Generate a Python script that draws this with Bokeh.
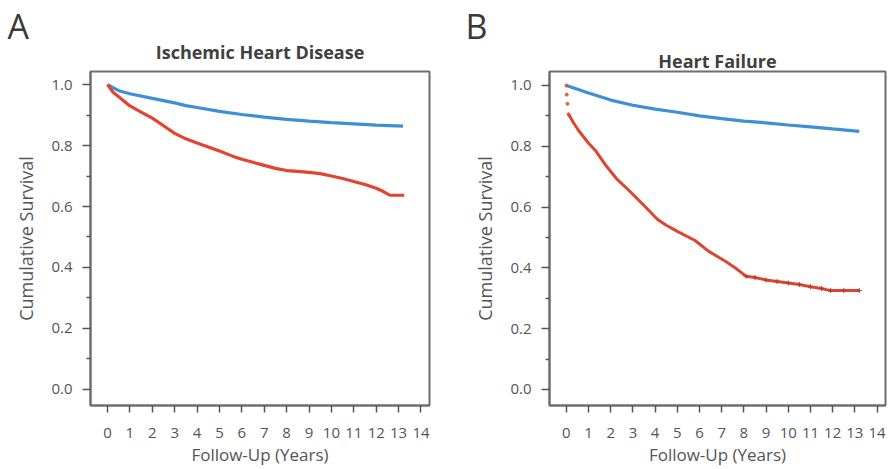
from bokeh.plotting import figure
from bokeh.layouts import row
from bokeh.models import FixedTicker, Range1d, Title
from bokeh.embed import file_html
from bokeh.resources import INLINE

# ---- data ----
ihd_blue_t = [0, 0.5, 1, 2, 3, 3.5, 4, 5, 6, 7, 8, 9, 10, 11, 12, 13.2]
ihd_blue_v = [1.0, 0.98, 0.97, 0.955, 0.94, 0.931, 0.925, 0.912, 0.902, 0.893, 0.886, 0.880, 0.875, 0.871, 0.867, 0.864]
ihd_red_t = [0, 0.25, 0.5, 1, 1.5, 2, 2.5, 3, 3.5, 4, 5, 5.7, 6, 7, 7.5, 8, 8.5, 9, 9.5, 10, 10.5, 11, 11.5, 12, 12.3, 12.6, 13, 13.25]
ihd_red_v = [1.0, 0.975, 0.96, 0.93, 0.91, 0.89, 0.865, 0.84, 0.822, 0.808, 0.782, 0.762, 0.755, 0.735, 0.725, 0.718, 0.715, 0.712, 0.708, 0.70, 0.692, 0.682, 0.672, 0.66, 0.65, 0.637, 0.637, 0.637]

hf_blue_t = [0, 1, 2, 3, 4, 5, 6, 7, 8, 9, 10, 11, 12, 13.2]
hf_blue_v = [1.0, 0.975, 0.952, 0.935, 0.922, 0.912, 0.90, 0.891, 0.883, 0.877, 0.87, 0.864, 0.857, 0.849]
hf_red_t = [0, 0.02, 0.05, 0.1, 0.3, 0.55, 1, 1.3, 1.8, 2.3, 2.8, 3.5, 4.1, 4.5, 5, 5.8, 6.4, 7.2, 7.7, 8.1, 8.5, 9, 9.5, 10, 10.5, 11, 11.5, 11.9, 12.5, 13.2]
hf_red_v = [1.0, 0.97, 0.94, 0.905, 0.88, 0.852, 0.81, 0.787, 0.735, 0.69, 0.656, 0.605, 0.56, 0.54, 0.52, 0.49, 0.455, 0.42, 0.395, 0.372, 0.368, 0.36, 0.355, 0.35, 0.345, 0.338, 0.332, 0.325, 0.325, 0.325]

x_ticks = list(range(0, 15))
y_ticks = [0.0, 0.2, 0.4, 0.6, 0.8, 1.0]
y_tick_labels = ["0.0", "0.2", "0.4", "0.6", "0.8", "1.0"]
y_minor = [0.1, 0.3, 0.5, 0.7, 0.9]

titles = ["Ischemic Heart Disease", "Heart Failure"]
letters = ["A", "B"]
x_label = "Follow-Up (Years)"
y_label = "Cumulative Survival"

BLUE = "#3f8fd6"
RED = "#e4432f"
RED_B = "#dc4530"
FRAME = "#6e6e6e"
TXT = "#555555"
FONT = "Open Sans"


def make_panel(title, letter, width, bl, br, y_top, letter_off, letter_standoff, title_standoff):
    fw = width - bl - br
    p = figure(frame_width=fw, frame_height=334, output_backend="svg", toolbar_location=None,
               x_range=Range1d(-0.76, 14.38), y_range=Range1d(-0.053, y_top),
               min_border_left=bl, min_border_right=br, min_border_top=71,
               min_border_bottom=64)
    # outermost: panel letter
    p.title.text = letter
    p.title.text_font = FONT
    p.title.text_font_size = "34px"
    p.title.text_font_style = "normal"
    p.title.text_color = "#3a3a3a"
    p.title.align = "left"
    p.title.offset = letter_off
    p.title.standoff = letter_standoff
    # nearest the frame: panel title
    mt = Title(text=title, align="center", text_font=FONT, text_font_size="18px",
               text_font_style="bold", text_color="#404040", standoff=title_standoff)
    p.add_layout(mt, "above")

    p.outline_line_color = FRAME
    p.outline_line_width = 2
    p.xgrid.visible = False
    p.ygrid.visible = False

    p.xaxis.ticker = FixedTicker(ticks=x_ticks)
    p.yaxis.ticker = FixedTicker(ticks=y_ticks, minor_ticks=y_minor)
    p.yaxis.major_label_overrides = {v: s for v, s in zip(y_ticks, y_tick_labels)}
    for ax in (p.xaxis[0], p.yaxis[0]):
        ax.axis_line_color = FRAME
        ax.axis_line_width = 2
        ax.major_tick_line_color = "#555555"
        ax.major_tick_line_width = 1.5
        ax.minor_tick_line_color = "#555555"
        ax.minor_tick_line_width = 1.5
        ax.major_label_text_font = FONT
        ax.major_label_text_font_size = "15px"
        ax.major_label_text_color = TXT
        ax.axis_label_text_font = FONT
        ax.axis_label_text_font_style = "normal"
        ax.axis_label_text_color = TXT
    p.xaxis.axis_label_text_font_size = "17px"
    p.yaxis.axis_label_text_font_size = "18px"
    p.xaxis.major_tick_out = 7
    p.xaxis.major_tick_in = 0
    p.xaxis.minor_tick_out = 0
    p.xaxis.major_label_standoff = 15
    p.xaxis.axis_label = x_label
    p.xaxis.axis_label_standoff = 2
    p.yaxis.major_tick_out = 8
    p.yaxis.major_tick_in = 0
    p.yaxis.minor_tick_out = 4
    p.yaxis.minor_tick_in = 0
    p.yaxis.major_label_standoff = 10
    p.yaxis.axis_label = y_label
    p.yaxis.axis_label_standoff = 10
    return p


pA = make_panel(titles[0], letters[0], 445, 90, 16, 1.043, -83, -36, 15)
pA.line(ihd_blue_t, ihd_blue_v, line_color=BLUE, line_width=3.2)
pA.line(ihd_red_t, ihd_red_v, line_color=RED, line_width=3.2)

pB = make_panel(titles[1], letters[1], 445, 104, 5, 1.046, -84, 0, -3)
pB.line(hf_blue_t, hf_blue_v, line_color=BLUE, line_width=3.2)
# early steep drop drawn as sparse dots, then the curve
pB.scatter(hf_red_t[:4], hf_red_v[:4], size=3, color=RED_B, alpha=0.8)
pB.line(hf_red_t[3:], hf_red_v[3:], line_color=RED_B, line_width=3)
# censoring marks on the late part of the curve
pB.scatter(hf_red_t[19:], hf_red_v[19:], marker="cross", size=5, line_color="#b83a2a",
           line_width=1)

layout = row(pA, pB)
open("out.html", "w").write(file_html(layout, INLINE))
